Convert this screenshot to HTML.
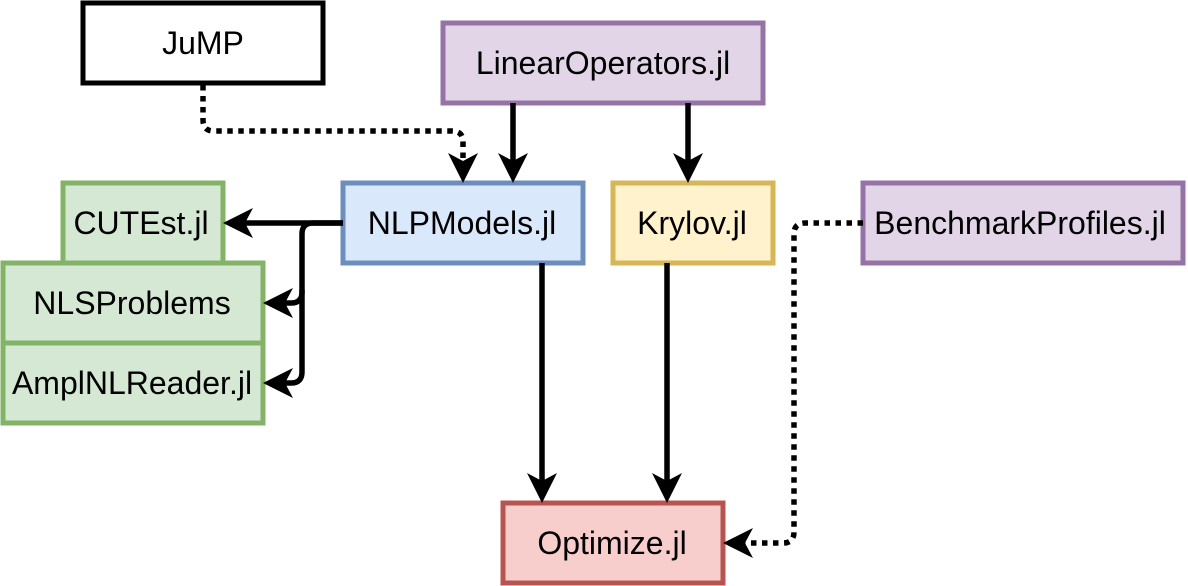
<!DOCTYPE html>
<html><head><style>
html,body{margin:0;padding:0;background:#fff;}
svg{display:block;}
text{font-family:"Liberation Sans",sans-serif;font-size:32px;fill:#000;}
</style></head><body>
<svg width="1188" height="586" viewBox="0 0 1188 586" xmlns="http://www.w3.org/2000/svg">
<g stroke-width="5">
<rect x="83" y="3" width="240" height="80" fill="#fff" stroke="#000"/>
<rect x="443" y="23" width="320" height="80" fill="#e1d5e7" stroke="#9673a6"/>
<rect x="63" y="183" width="160" height="80" fill="#d5e8d4" stroke="#82b366"/>
<rect x="3" y="263" width="260" height="80" fill="#d5e8d4" stroke="#82b366"/>
<rect x="3" y="343" width="260" height="80" fill="#d5e8d4" stroke="#82b366"/>
<rect x="343" y="183" width="240" height="80" fill="#dae8fc" stroke="#6c8ebf"/>
<rect x="613" y="183" width="160" height="80" fill="#fff2cc" stroke="#d6b656"/>
<rect x="863" y="183" width="320" height="80" fill="#e1d5e7" stroke="#9673a6"/>
<rect x="503" y="503" width="220" height="80" fill="#f8cecc" stroke="#b85450"/>
</g>
<g text-anchor="middle">
<text x="203" y="54">JuMP</text>
<text x="603" y="74">LinearOperators.jl</text>
<text x="141" y="234">CUTEst.jl</text>
<text x="132" y="314">NLSProblems</text>
<text x="132" y="394">AmplNLReader.jl</text>
<text x="462" y="234">NLPModels.jl</text>
<text x="692" y="234">Krylov.jl</text>
<text x="1020" y="234">BenchmarkProfiles.jl</text>
<text x="612" y="554">Optimize.jl</text>
</g>
<g fill="none" stroke="#000" stroke-width="5.5">
<path d="M203,85 V120 Q203,131 214,131 H452 Q463,131 463,142 V162" stroke-dasharray="5.5 5.5"/>
<path d="M513,103 V162"/>
<path d="M688,103 V162"/>
<path d="M343,223 H245"/>
<path d="M343,223 H313 Q302,223 302,234 V292 Q302,303 291,303 H283"/>
<path d="M302,290 V372 Q302,383 291,383 H283"/>
<path d="M542,263 V482"/>
<path d="M667,263 V482"/>
<path d="M863,223 H805 Q794,223 794,234 V532 Q794,543 783,543 H745" stroke-dasharray="5.5 5.5"/>
</g>
<g fill="#000">
<path d="M463,183 L448,153 L463,161 L478,153 Z"/>
<path d="M513,183 L498,153 L513,161 L528,153 Z"/>
<path d="M688,183 L673,153 L688,161 L703,153 Z"/>
<path d="M542,503 L527,473 L542,481 L557,473 Z"/>
<path d="M667,503 L652,473 L667,481 L682,473 Z"/>
<path d="M223,223 L253,208 L245,223 L253,238 Z"/>
<path d="M263,303 L293,288 L285,303 L293,318 Z"/>
<path d="M263,383 L293,368 L285,383 L293,398 Z"/>
<path d="M723,543 L753,528 L745,543 L753,558 Z"/>
</g>
</svg>
</body></html>
